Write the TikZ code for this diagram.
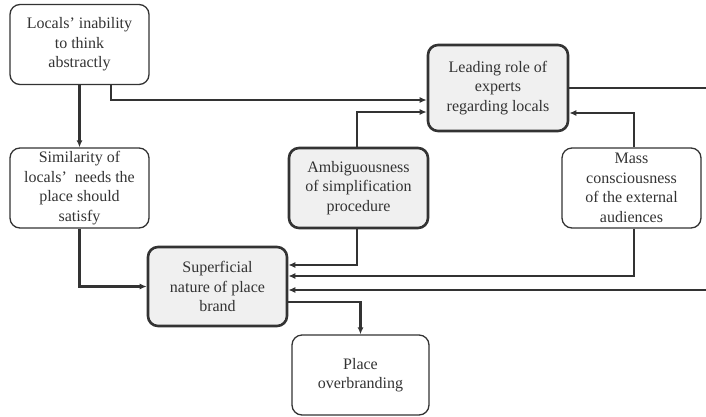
\documentclass[tikz,border=0pt]{standalone}
\usepackage{fontspec}
\setmainfont{Liberation Serif}
\usetikzlibrary{arrows.meta}
\definecolor{ink}{HTML}{333333}
\definecolor{shade}{HTML}{F0F0F0}
\tikzset{
	factor/.style={draw=ink, line width=1.3pt, rounded corners=10pt, align=center, text=ink,
		minimum width=139pt, minimum height=80pt, inner sep=2pt,
		font=\rmfamily\fontsize{16}{19.5}\selectfont},
	keyfactor/.style={factor, fill=shade, line width=2.6pt},
	link/.style={draw=ink, line width=2.2pt, -{Latex[length=7pt,width=6pt]}},
	plain/.style={draw=ink, line width=2.2pt}
}
\begin{document}
\begin{tikzpicture}[x=1pt,y=-1pt]
		\useasboundingbox (0,0) rectangle (706,416);
		\node[factor] (loc) at (79.5,44.5) {Locals' inability\\to think\\abstractly};
		\node[factor] (sim) at (79.5,188) {Similarity of\\locals'~ needs the\\place should\\satisfy};
		\node[keyfactor, minimum width=140pt, minimum height=86pt] (lead) at (498,88) {Leading role of\\experts\\regarding locals};
		\node[keyfactor] (amb) at (358.5,188) {Ambiguousness\\of simplification\\procedure};
		\node[factor] (mass) at (631.5,188) {Mass\\consciousness\\of the external\\audiences};
		\node[keyfactor, minimum height=79pt] (sup) at (217.5,286.5) {Superficial\\nature of place\\brand};
		\node[factor, minimum width=137pt] (place) at (360.5,375) {Place\\overbranding};
		\coordinate (outA) at (706,88);
		\coordinate (inB) at (706,290);
		\draw[link] (loc.south) -- (sim.north);
		\draw[link] ([xshift=31.5pt]loc.south) |- ([yshift=-12pt]lead.west);
		\draw[link] ([xshift=-1.5pt]amb.north) |- ([yshift=-24pt]lead.west);
		\draw[link] ([xshift=2.5pt]mass.north) |- ([yshift=-25pt]lead.east);
		\draw[plain] (lead.east) -- (outA);
		\draw[link] (sim.south) |- (sup.west);
		\draw[link] ([xshift=-1.5pt]amb.south) |- ([yshift=21.5pt]sup.east);
		\draw[link] ([xshift=2.5pt]mass.south) |- ([yshift=10.5pt]sup.east);
		\draw[link] (inB) -- ([yshift=-3.5pt]sup.east);
		\draw[link] ([yshift=-15.5pt]sup.east) -| (place.north);
\end{tikzpicture}
\end{document}
